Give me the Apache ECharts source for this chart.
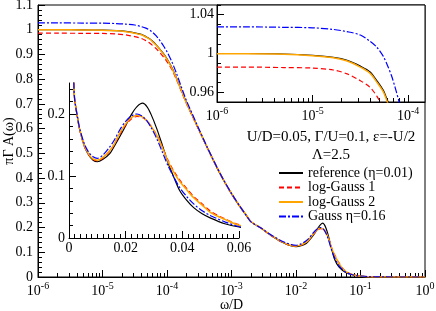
<!DOCTYPE html>
<html>
<head>
<meta charset="utf-8">
<script src="https://cdn.jsdelivr.net/npm/echarts@6/dist/echarts.min.js"></script>
<style>html,body{margin:0;padding:0;background:#fff;}#c{width:436px;height:311px;}</style>
</head>
<body>
<div id="c"></div>
<script>
// ---- data ----
const omega = [1e-6, 2e-6, 5e-6, 1e-5, 1.65e-5, 2.3e-5, 3.16e-5, 4e-5, 4.7e-5, 5.5e-5,
  6e-5, 6.7e-5, 7.3e-5, 8e-5, 9e-5, 1e-4, 1.2e-4, 1.4e-4, 1.7e-4, 2e-4,
  2.5e-4, 3e-4, 4e-4, 5e-4, 6e-4, 7.5e-4, 1e-3, 1.35e-3, 1.7e-3, 2e-3,
  3e-3, 3.8e-3, 5.5e-3, 7e-3, 8.5e-3, 0.01, 0.012, 0.0144, 0.016, 0.018,
  0.02, 0.022, 0.024, 0.026, 0.0275, 0.029, 0.031, 0.033, 0.035, 0.037,
  0.039, 0.0415, 0.044, 0.047, 0.05, 0.055, 0.06, 0.07, 0.08, 0.1,
  0.13, 0.2, 0.5, 1];
const reference = [1.0, 1.0, 0.9995, 0.998, 0.996, 0.993, 0.987, 0.981, 0.972, 0.962,
  0.953, 0.941, 0.930, 0.917, 0.900, 0.882, 0.845, 0.805, 0.750, 0.705,
  0.650, 0.605, 0.535, 0.482, 0.440, 0.392, 0.336, 0.284, 0.248, 0.224,
  0.194, 0.174, 0.147, 0.1335, 0.1255, 0.123, 0.127, 0.136, 0.148, 0.164,
  0.181, 0.199, 0.212, 0.2175, 0.212, 0.199, 0.176, 0.149, 0.121, 0.098,
  0.077, 0.061, 0.049, 0.039, 0.032, 0.023, 0.0177, 0.011, 0.007, 0.004,
  0.0015, 0.0004, 0, 0];
const logGauss1 = [0.986, 0.986, 0.9855, 0.985, 0.983, 0.979, 0.972, 0.965, 0.956, 0.944,
  0.936, 0.925, 0.915, 0.903, 0.887, 0.871, 0.837, 0.799, 0.746, 0.702,
  0.648, 0.604, 0.535, 0.483, 0.441, 0.393, 0.337, 0.285, 0.249, 0.224,
  0.194, 0.174, 0.147, 0.134, 0.1265, 0.1245, 0.129, 0.140, 0.151, 0.168,
  0.182, 0.192, 0.196, 0.194, 0.189, 0.180, 0.166, 0.146, 0.125, 0.108,
  0.094, 0.080, 0.067, 0.055, 0.043, 0.031, 0.0215, 0.013, 0.008, 0.004,
  0.0015, 0.0004, 0, 0];
const logGauss2 = [0.9998, 0.9998, 0.9993, 0.9977, 0.9955, 0.9922, 0.986, 0.9795, 0.9705, 0.9605,
  0.951, 0.939, 0.928, 0.915, 0.898, 0.880, 0.843, 0.803, 0.749, 0.704,
  0.650, 0.606, 0.536, 0.484, 0.442, 0.394, 0.338, 0.286, 0.250, 0.2245,
  0.195, 0.175, 0.148, 0.135, 0.1275, 0.1255, 0.130, 0.141, 0.152, 0.170,
  0.184, 0.194, 0.198, 0.195, 0.189, 0.180, 0.165, 0.145, 0.123, 0.106,
  0.092, 0.078, 0.065, 0.053, 0.041, 0.030, 0.0205, 0.012, 0.0075, 0.004,
  0.0015, 0.0004, 0, 0];
const gauss = [1.0275, 1.0275, 1.027, 1.0265, 1.0248, 1.0225, 1.019, 1.0125, 1.0065, 0.997,
  0.989, 0.977, 0.965, 0.951, 0.931, 0.911, 0.868, 0.824, 0.763, 0.714,
  0.656, 0.609, 0.537, 0.484, 0.442, 0.394, 0.338, 0.286, 0.249, 0.223,
  0.195, 0.176, 0.151, 0.138, 0.131, 0.1285, 0.134, 0.147, 0.158, 0.175,
  0.188, 0.197, 0.200, 0.196, 0.189, 0.178, 0.160, 0.138, 0.116, 0.098,
  0.082, 0.067, 0.055, 0.044, 0.036, 0.026, 0.0185, 0.011, 0.007, 0.004,
  0.0015, 0.0004, 0, 0];

const seriesNames = ['reference (η=0.01)', 'log-Gauss 1', 'log-Gauss 2', 'Gauss η=0.16'];
const mainXTicks = [1e-6, 1e-5, 1e-4, 1e-3, 1e-2, 1e-1, 1];
const mainXExp = ['-6', '-5', '-4', '-3', '-2', '-1', '0'];
const insetXTicks = [1e-6, 1e-5, 1e-4];
const insetYTicks = [0.96, 1, 1.04];
const insetYMinor = [0.95, 0.97, 0.98, 0.99, 1.01, 1.02, 1.03, 1.05];
const linXTicks = [0, 0.02, 0.04, 0.06];
const linYTicks = [0, 0.1, 0.2];
const linYMinor = [0.02, 0.04, 0.06, 0.08, 0.12, 0.14, 0.16, 0.18, 0.22, 0.24];
const paramText1 = 'U/D=0.05, Γ/U=0.1, ε=-U/2';
const paramText2 = 'Λ=2.5';

// ---- helpers ----
const FONT = "'Liberation Serif', 'Times New Roman', serif";
const minorMult = [2, 3, 4, 5, 6, 7, 8, 9];
function minorLog(majors, maxV) {
  const out = [];
  majors.forEach(m => minorMult.forEach(k => { const v = m * k; if (v <= maxV * 1.0001) out.push(v); }));
  return out;
}
function expLabel(v) {
  let idx = 0, best = Infinity;
  mainXTicks.forEach((t, i) => { const d = Math.abs(Math.log10(t) - Math.log10(v)); if (d < best) { best = d; idx = i; } });
  return '{b|10}{s|' + mainXExp[idx] + '}';
}
const richExp = {
  b: { fontFamily: FONT, fontSize: 14, color: '#000', verticalAlign: 'bottom' },
  s: { fontFamily: FONT, fontSize: 10, color: '#000', verticalAlign: 'bottom', padding: [0, 0, 7, 0] }
};
const lineBlack = { color: '#000', width: 1 };
const lblStyle = { fontFamily: FONT, fontSize: 14, color: '#000' };

const styles = [
  { color: '#000000', lineStyle: { color: '#000000', width: 1.2, type: 'solid' } },
  { color: '#ff0000', lineStyle: { color: '#ff0000', width: 1.2, type: [5, 3] } },
  { color: '#ffa500', lineStyle: { color: '#ffa500', width: 1.5, type: 'solid' } },
  { color: '#0000ff', lineStyle: { color: '#0000ff', width: 1.2, type: [7, 2, 2, 2] } }
];
const seriesData = [reference, logGauss1, logGauss2, gauss];

function makeSeries(xi, yi, z) {
  return seriesData.map((arr, k) => ({
    type: 'line', name: seriesNames[k], xAxisIndex: xi, yAxisIndex: yi, z: z,
    data: omega.map((w, i) => [w, arr[i]]),
    symbol: 'none', showSymbol: false, smooth: 0.3, clip: true,
    color: styles[k].color, itemStyle: { color: styles[k].color },
    lineStyle: styles[k].lineStyle, animation: false
  }));
}

const option = {
  animation: false,
  backgroundColor: '#fff',
  grid: [
    { left: 38, top: 5, width: 387, height: 272, show: true, borderColor: '#000', borderWidth: 1, backgroundColor: 'transparent', outerBoundsMode: 'none', containLabel: false },
    { left: 217, top: 5, width: 208, height: 97, show: true, borderColor: '#000', borderWidth: 1, backgroundColor: '#fff', z: 3, outerBoundsMode: 'none', containLabel: false },
    { left: 69, top: 83, width: 170, height: 155, show: false, outerBoundsMode: 'none', containLabel: false }
  ],
  xAxis: [
    { gridIndex: 0, type: 'log', logBase: 10, min: 1e-6, max: 1, position: 'bottom',
      name: 'ω/D', nameLocation: 'middle', nameGap: 21, nameMoveOverlap: false, nameTextStyle: lblStyle,
      axisLine: { lineStyle: lineBlack }, splitLine: { show: false },
      axisTick: { inside: true, length: 7, customValues: mainXTicks, lineStyle: lineBlack },
      axisLabel: { customValues: mainXTicks, formatter: expLabel, rich: richExp, margin: 4 } },
    { gridIndex: 0, type: 'log', logBase: 10, min: 1e-6, max: 1, position: 'bottom', offset: 0,
      axisLine: { show: false }, splitLine: { show: false }, axisLabel: { show: false },
      axisTick: { inside: true, length: 4, customValues: minorLog(mainXTicks.slice(0, 6), 1), lineStyle: lineBlack } },
    { gridIndex: 1, type: 'log', logBase: 10, min: 1e-6, max: 1.5e-4, position: 'bottom', z: 4,
      axisLine: { lineStyle: lineBlack }, splitLine: { show: false },
      axisTick: { inside: true, length: 7, customValues: insetXTicks, lineStyle: lineBlack },
      axisLabel: { customValues: insetXTicks, formatter: expLabel, rich: richExp, margin: 4 } },
    { gridIndex: 1, type: 'log', logBase: 10, min: 1e-6, max: 1.5e-4, position: 'bottom', offset: 0, z: 4,
      axisLine: { show: false }, splitLine: { show: false }, axisLabel: { show: false },
      axisTick: { inside: true, length: 4, customValues: minorLog(insetXTicks, 1.5e-4), lineStyle: lineBlack } },
    { gridIndex: 2, type: 'value', min: 0, max: 0.06, interval: 0.02,
      axisLine: { lineStyle: lineBlack }, splitLine: { show: false },
      axisTick: { inside: true, length: 7, lineStyle: lineBlack },
      minorTick: { show: true, splitNumber: 10, length: 4, lineStyle: lineBlack },
      axisLabel: Object.assign({ margin: 3, customValues: linXTicks }, lblStyle) }
  ],
  yAxis: [
    { gridIndex: 0, type: 'value', min: 0, max: 1.1, interval: 0.1,
      name: 'πΓ A(ω)', nameLocation: 'middle', nameGap: 22, nameMoveOverlap: false, nameTextStyle: lblStyle,
      axisLine: { lineStyle: lineBlack }, splitLine: { show: false },
      axisTick: { inside: true, length: 7, lineStyle: lineBlack },
      minorTick: { show: true, splitNumber: 5, length: 4, lineStyle: lineBlack },
      axisLabel: Object.assign({ margin: 5 }, lblStyle) },
    { gridIndex: 1, type: 'value', min: 0.95, max: 1.05, z: 4,
      axisLine: { lineStyle: lineBlack }, splitLine: { show: false },
      axisTick: { inside: true, length: 7, customValues: insetYTicks, lineStyle: lineBlack },
      axisLabel: Object.assign({ margin: 3, customValues: insetYTicks }, lblStyle) },
    { gridIndex: 1, type: 'value', min: 0.95, max: 1.05, z: 4, position: 'left', offset: 0,
      axisLine: { show: false }, splitLine: { show: false }, axisLabel: { show: false },
      axisTick: { inside: true, length: 4, customValues: insetYMinor, lineStyle: lineBlack } },
    { gridIndex: 2, type: 'value', min: 0, max: 0.25,
      axisLine: { lineStyle: lineBlack }, splitLine: { show: false },
      axisTick: { inside: true, length: 7, customValues: linYTicks, lineStyle: lineBlack },
      axisLabel: Object.assign({ margin: 4, customValues: linYTicks }, lblStyle) },
    { gridIndex: 2, type: 'value', min: 0, max: 0.25, position: 'left', offset: 0,
      axisLine: { show: false }, splitLine: { show: false }, axisLabel: { show: false },
      axisTick: { inside: true, length: 4, customValues: linYMinor, lineStyle: lineBlack } }
  ],
  legend: {
    data: seriesNames, orient: 'vertical', left: 278, top: 166, padding: 0,
    itemWidth: 24, itemHeight: 1, itemGap: 0.5, itemTextGap: 8,
    itemStyle: { opacity: 0 },
    textStyle: { fontFamily: FONT, fontSize: 14, color: '#000', lineHeight: 12 },
    selectedMode: false
  },
  graphic: [
    { type: 'text', x: 331, y: 137, style: { text: paramText1, textAlign: 'center', textVerticalAlign: 'middle', font: "15px 'Liberation Serif', serif", fill: '#000' }, z: 10 },
    { type: 'text', x: 331, y: 155, style: { text: paramText2, textAlign: 'center', textVerticalAlign: 'middle', font: "15px 'Liberation Serif', serif", fill: '#000' }, z: 10 }
  ],
  series: [].concat(makeSeries(0, 0, 2), makeSeries(2, 1, 5), makeSeries(4, 3, 2))
};

const chart = echarts.init(document.getElementById('c'), null, { renderer: 'canvas' });
chart.setOption(option);
</script>
</body>
</html>
